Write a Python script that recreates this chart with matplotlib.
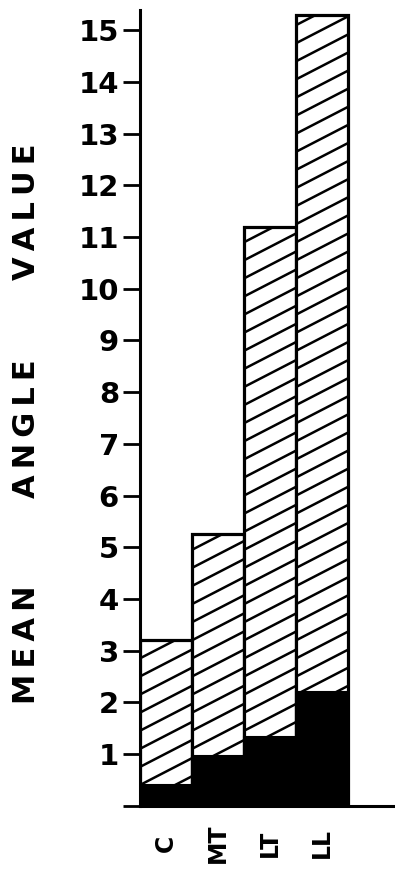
import numpy as np
import matplotlib
matplotlib.use("Agg")
import matplotlib.pyplot as plt
from matplotlib.collections import LineCollection

# data
groups = ["C", "MT", "LT", "LL"]
total_values = [3.2, 5.25, 11.2, 15.3]   # hatched bar tops
dark_values = [0.4, 0.97, 1.33, 2.2]     # solid black part
y_ticks = list(range(0, 16))
y_tick_labels = [""] + [str(v) for v in range(1, 16)]
label_words = ["MEAN", "ANGLE", "VALUE"]

plt.rcParams['font.family'] = ['DejaVu Sans']

fig = plt.figure(figsize=(3.95, 8.73), dpi=100)
ax = fig.add_axes([0.354, 0.077, 0.646, 0.912])

x = np.arange(len(groups))
bars = ax.bar(x, total_values, width=1.0, align='edge', color='white',
              edgecolor='black', linewidth=2.3, zorder=2)
ax.bar(x, dark_values, width=1.0, align='edge', color='black',
       edgecolor='black', linewidth=1.5, zorder=4)

# shallow diagonal hatching, clipped to each bar
slope, gap = 0.52, 0.35
for bar, top in zip(bars, total_values):
    x0 = bar.get_x()
    segs = []
    for y0 in np.arange(-1.0, top + 0.5, gap):
        segs.append([(x0, y0), (x0 + 1.0, y0 + slope)])
    lc = LineCollection(segs, colors='black', linewidths=1.8, zorder=3)
    ax.add_collection(lc)
    lc.set_clip_path(bar)

ax.set_xlim(0, 4.9)
ax.set_ylim(0, 15.4)
ax.set_yticks(y_ticks)
ax.set_yticklabels(y_tick_labels, fontsize=21, fontweight='heavy')
ax.tick_params(axis='y', direction='out', length=12, width=2.0, pad=3)
ax.set_xticks(x + 0.5)
ax.set_xticklabels(groups, rotation=90, fontsize=17, fontweight='heavy',
                   va='center')
ax.tick_params(axis='x', length=0, pad=27)

for side in ['top', 'right']:
    ax.spines[side].set_visible(False)
for side in ['left', 'bottom']:
    ax.spines[side].set_linewidth(2.2)

# axis title drawn word by word, letters spread like the original lettering
for word, yc in zip(label_words, [0.262, 0.509, 0.758]):
    fig.text(0.066, yc, "\u2009".join(word), rotation=90, ha='center',
             va='center', fontsize=22, fontweight='heavy')

fig.savefig("out.png", dpi=100)
